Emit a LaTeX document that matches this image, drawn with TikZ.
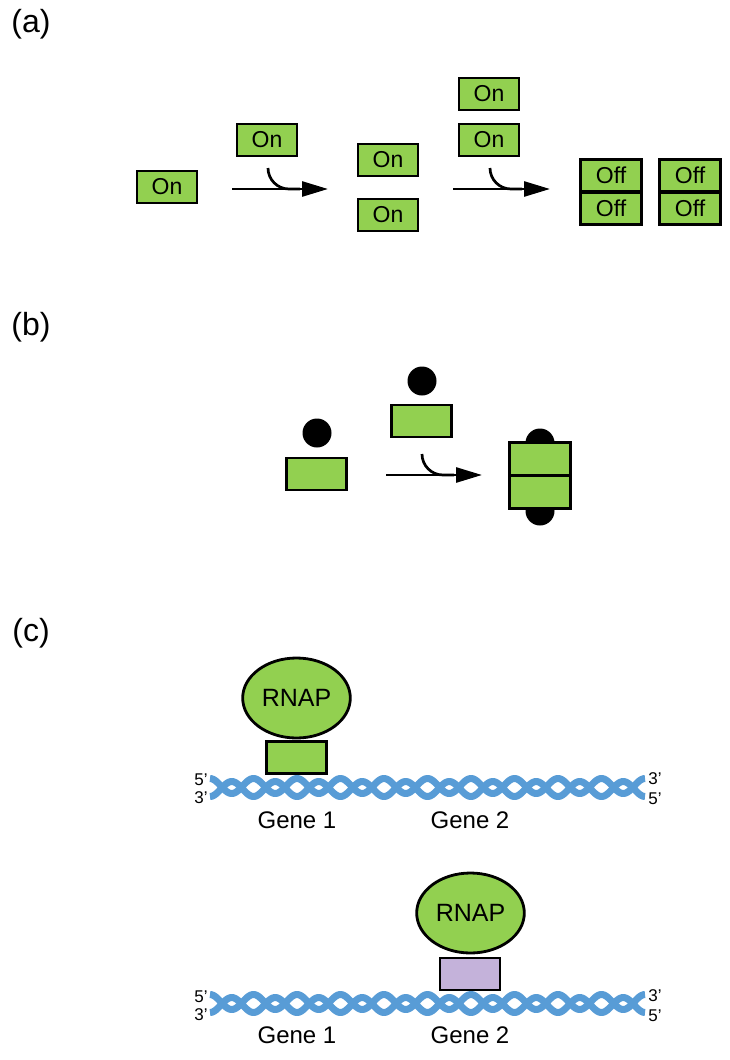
\documentclass[tikz,border=0pt]{standalone}
\usepackage{fontspec}
\setmainfont{Liberation Sans}
\usetikzlibrary{shapes.geometric,arrows.meta}

\definecolor{verde}{RGB}{146,208,80}
\definecolor{azul}{RGB}{88,156,214}
\definecolor{lilas}{RGB}{196,178,218}

\tikzset{
  caixa/.style={draw, line width=2.8pt, fill=verde, minimum width=60pt, minimum height=32pt, inner sep=0pt, font=\fontsize{23}{23}\selectfont},
  meia/.style={caixa, minimum width=61pt, minimum height=32.5pt},
  bola/.style={circle, fill=black, minimum size=29pt, inner sep=0pt},
  rnap/.style={ellipse, draw, line width=2.8pt, fill=verde, minimum width=104pt, minimum height=80pt, font=\fontsize{25}{25}\selectfont},
  seta/.style={line width=2.7pt, -{Triangle[length=26pt,width=15pt]}},
  entra/.style={line width=2.7pt, rounded corners=21pt},
  fita/.style={line width=7pt, azul, line join=round},
  painel/.style={font=\fontsize{32}{32}\selectfont},
  gene/.style={font=\fontsize{24}{24}\selectfont},
  ponta/.style={font=\fontsize{17}{17}\selectfont, inner sep=0pt}
}

\begin{document}
\begin{tikzpicture}[x=1pt, y=-1pt]
  \useasboundingbox (0,0) rectangle (730,1060);
  % (a) ativadores que se juntam e desligam
  \node[painel] (pa) at (31,24) {(a)};
  \node[caixa] (on1) at (167,187) {On};
  \node[caixa] (on2) at (267,140) {On};
  \coordinate (s1a) at (232,189);
  \coordinate (s1b) at (328,189);
  \coordinate (c1) at (268,168);
  \coordinate (m1) at (300,189);
  \draw[seta] (s1a) -- (s1b);
  \draw[entra] (c1) |- (m1);
  \node[caixa] (on3) at (388,160) {On};
  \node[caixa] (on4) at (388,215) {On};
  \node[caixa] (on5) at (489,94) {On};
  \node[caixa] (on6) at (489,140) {On};
  \coordinate (s2a) at (453,189);
  \coordinate (s2b) at (550,189);
  \coordinate (c2) at (490,168);
  \coordinate (m2) at (522,189);
  \draw[seta] (s2a) -- (s2b);
  \draw[entra] (c2) |- (m2);
  % pares desligados
  \node[meia] (off1) at (611,175.5) {Off};
  \node[meia] (off2) at (611,208.5) {Off};
  \node[meia] (off3) at (690,175.5) {Off};
  \node[meia] (off4) at (690,208.5) {Off};

  % (b) com ligante
  \node[painel] (pb) at (31,327) {(b)};
  \node[bola] (b1) at (317,433) {};
  \node[caixa] (k1) at (316.5,474) {};
  \node[bola] (b2) at (422,381) {};
  \node[caixa] (k2) at (421.5,421) {};
  \coordinate (s3a) at (386,475);
  \coordinate (s3b) at (482,475);
  \coordinate (c3) at (422,454);
  \coordinate (m3) at (454,475);
  \draw[seta] (s3a) -- (s3b);
  \draw[entra] (c3) |- (m3);
  \node[bola] (b3) at (540,443) {};
  \node[bola] (b4) at (540,511) {};
  \node[meia] (k3) at (540,459) {};
  \node[meia] (k4) at (540,492) {};

  % (c) RNAP sobre o DNA
  \node[painel] (pc) at (31,633) {(c)};
  \def\yum{787.5}
  \def\ydois{1003.5}
  \draw[fita] plot[domain=210:645, samples=300] (\x, {\yum - 1.5 - 7.5*sin(90 + 8.27586*(\x-210))});
  \draw[fita] plot[domain=210:645, samples=300] (\x, {\yum + 1.5 + 7.5*sin(90 + 8.27586*(\x-210))});
  \node[caixa] (f1) at (296.5,757.5) {};
  \node[rnap] (r1) at (296.5,698) {RNAP};
  \node[ponta] (e1) at (201,780) {5’};
  \node[ponta] (e2) at (201,798) {3’};
  \node[ponta] (e3) at (655,779) {3’};
  \node[ponta] (e4) at (655,799) {5’};
  \node[gene] (g1) at (297,820) {Gene 1};
  \node[gene] (g2) at (470,820) {Gene 2};
  % segundo caso
  \draw[fita] plot[domain=210:645, samples=300] (\x, {\ydois - 1.5 - 7.5*sin(90 + 8.27586*(\x-210))});
  \draw[fita] plot[domain=210:645, samples=300] (\x, {\ydois + 1.5 + 7.5*sin(90 + 8.27586*(\x-210))});
  \node[caixa, fill=lilas] (f2) at (470,974) {};
  \node[rnap] (r2) at (470.5,913) {RNAP};
  \node[ponta] (e5) at (201,996.5) {5’};
  \node[ponta] (e6) at (201,1014.5) {3’};
  \node[ponta] (e7) at (655,995.5) {3’};
  \node[ponta] (e8) at (655,1015.5) {5’};
  \node[gene] (g3) at (297,1035.5) {Gene 1};
  \node[gene] (g4) at (470,1035.5) {Gene 2};
\end{tikzpicture}
\end{document}
